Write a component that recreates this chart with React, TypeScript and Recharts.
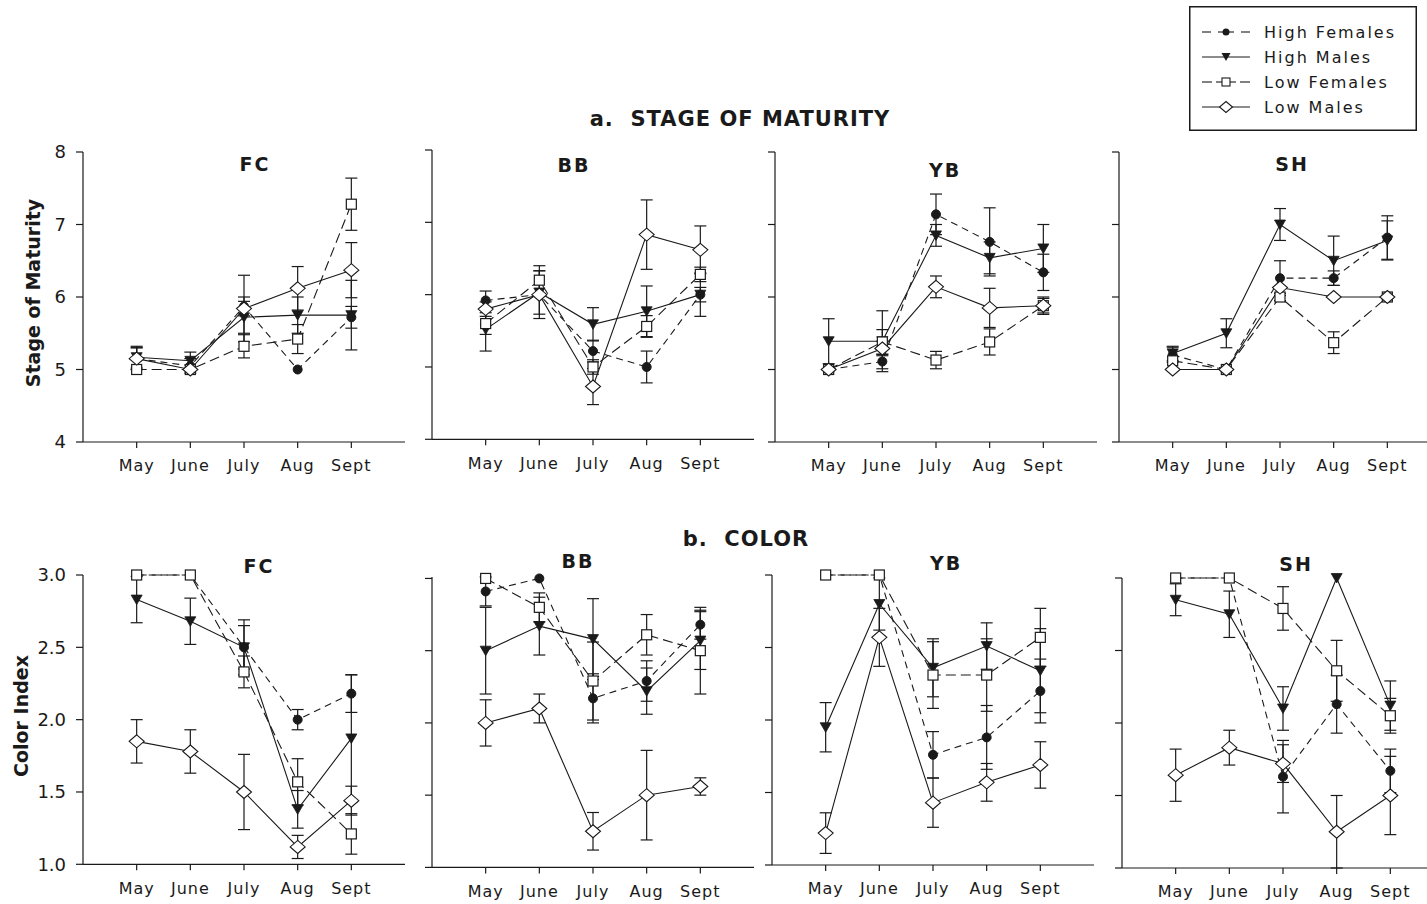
import React from 'react';
import { LineChart, Line, XAxis, YAxis, ErrorBar } from 'recharts';

// ---------- data ----------
const months = ['May', 'June', 'July', 'Aug', 'Sept'];
const seriesNames = ['High Females', 'High Males', 'Low Females', 'Low Males'];
const maturityTicks = [4, 5, 6, 7, 8];
const colorTicks = [1.0, 1.5, 2.0, 2.5, 3.0];

// each panel: rows = [High Females, High Males, Low Females, Low Males], columns = months
const matFC = [
  [5.15, 5.05, 5.87, 5.0, 5.72],
  [5.17, 5.12, 5.72, 5.75, 5.75],
  [5.0, 5.0, 5.32, 5.42, 7.28],
  [5.15, 5.0, 5.84, 6.12, 6.37],
];
const matFCErr = [
  [0.15, 0.1, 0.13, 0, 0.15],
  [0.15, 0.12, 0.22, 0.25, 0.48],
  [0, 0, 0.16, 0.2, 0.36],
  [0.15, 0, 0.46, 0.3, 0.38],
];
const matBB = [
  [5.92, 6.0, 5.22, 5.0, 6.0],
  [5.52, 6.03, 5.59, 5.77, 6.0],
  [5.6, 6.2, 5.0, 5.56, 6.28],
  [5.8, 6.0, 4.73, 6.83, 6.62],
];
const matBBErr = [
  [0.13, 0, 0.15, 0.22, 0.1],
  [0.3, 0.3, 0.23, 0.35, 0.3],
  [0.15, 0.2, 0.1, 0.15, 0.1],
  [0.1, 0.33, 0.25, 0.48, 0.33],
];
const matYB = [
  [5.0, 5.11, 7.14, 6.76, 6.34],
  [5.39, 5.39, 6.85, 6.54, 6.67],
  [5.0, 5.38, 5.13, 5.38, 5.88],
  [5.0, 5.29, 6.14, 5.85, 5.88],
];
const matYBErr = [
  [0, 0.1, 0.28, 0.47, 0.25],
  [0.31, 0.42, 0.15, 0.22, 0.33],
  [0, 0.17, 0.12, 0.18, 0.1],
  [0, 0.1, 0.15, 0.27, 0.12],
];
const matSH = [
  [5.2, 5.0, 6.26, 6.26, 6.82],
  [5.22, 5.5, 7.0, 6.5, 6.78],
  [5.12, 5.0, 6.0, 5.37, 6.0],
  [5.0, 5.0, 6.13, 6.0, 6.0],
];
const matSHErr = [
  [0.1, 0, 0.24, 0.1, 0.3],
  [0.1, 0.2, 0.22, 0.34, 0.27],
  [0, 0, 0.05, 0.15, 0],
  [0, 0, 0, 0, 0],
];
const colFC = [
  [3.0, 3.0, 2.5, 2.0, 2.18],
  [2.83, 2.68, 2.5, 1.38, 1.87],
  [3.0, 3.0, 2.33, 1.57, 1.21],
  [1.85, 1.78, 1.5, 1.12, 1.44],
];
const colFCErr = [
  [0, 0, 0.15, 0.07, 0.13],
  [0.16, 0.16, 0.19, 0.13, 0.44],
  [0, 0, 0.11, 0.16, 0.14],
  [0.15, 0.15, 0.26, 0.08, 0.1],
];
const colBB = [
  [2.91, 3.0, 2.17, 2.29, 2.68],
  [2.5, 2.67, 2.58, 2.22, 2.57],
  [3.0, 2.8, 2.29, 2.61, 2.5],
  [2.0, 2.1, 1.25, 1.5, 1.56],
];
const colBBErr = [
  [0.1, 0, 0.17, 0.14, 0.1],
  [0.3, 0.2, 0.28, 0.16, 0.2],
  [0, 0.1, 0.27, 0.14, 0.3],
  [0.16, 0.1, 0.13, 0.31, 0.06],
];
const colYB = [
  [3.0, 3.0, 1.76, 1.88, 2.2],
  [1.95, 2.8, 2.36, 2.51, 2.34],
  [3.0, 3.0, 2.31, 2.31, 2.57],
  [1.22, 2.57, 1.43, 1.57, 1.69],
];
const colYBErr = [
  [0, 0, 0.16, 0.22, 0.22],
  [0.17, 0.18, 0.2, 0.16, 0.29],
  [0, 0, 0.23, 0.25, 0.2],
  [0.14, 0.2, 0.17, 0.13, 0.16],
];
const colSH = [
  [3.0, 3.0, 1.63, 2.13, 1.67],
  [2.85, 2.75, 2.1, 3.0, 2.12],
  [3.0, 3.0, 2.79, 2.36, 2.05],
  [1.64, 1.83, 1.72, 1.25, 1.5],
];
const colSHErr = [
  [0, 0, 0.25, 0.2, 0.15],
  [0.11, 0.16, 0.15, 0, 0.17],
  [0, 0, 0.15, 0.21, 0.12],
  [0.18, 0.12, 0.13, 0.25, 0.27],
];

// ---------- helpers ----------
const INK = '#1a1a1a';
const KEYS = ['hf', 'hm', 'lf', 'lm'];

function buildRows(vals: number[][], errs: number[][]) {
  return months.map((_, i) => {
    const row: any = { m: i + 1 };
    KEYS.forEach((k, s) => {
      row[k] = vals[s][i];
      row[k + 'E'] = errs[s][i] || null;
    });
    return row;
  });
}

const CircleDot = (p: any) =>
  p.cx == null ? null : <circle key={`c${p.index}`} cx={p.cx} cy={p.cy} r={4.5} fill={INK} stroke={INK} strokeWidth={1} />;
const TriDot = (p: any) =>
  p.cx == null ? null : (
    <path key={`t${p.index}`} d={`M${p.cx - 5.5},${p.cy - 4.5} L${p.cx + 5.5},${p.cy - 4.5} L${p.cx},${p.cy + 5} Z`} fill={INK} stroke={INK} strokeWidth={0.8} />
  );
const SquareDot = (p: any) =>
  p.cx == null ? null : (
    <rect key={`s${p.index}`} x={p.cx - 5} y={p.cy - 5} width={10} height={10} fill="#fff" stroke={INK} strokeWidth={1.2} />
  );
const DiamondDot = (p: any) =>
  p.cx == null ? null : (
    <path key={`d${p.index}`} d={`M${p.cx},${p.cy - 6.5} L${p.cx + 7.5},${p.cy} L${p.cx},${p.cy + 6.5} L${p.cx - 7.5},${p.cy} Z`} fill="#fff" stroke={INK} strokeWidth={1.1} />
  );

const seriesStyle = [
  { key: 'hf', dash: '7 5', dot: CircleDot },
  { key: 'hm', dash: undefined, dot: TriDot },
  { key: 'lf', dash: '10 5', dot: SquareDot },
  { key: 'lm', dash: undefined, dot: DiamondDot },
];

const FONT = '"DejaVu Sans", Verdana, sans-serif';

type PanelProps = {
  x0: number;
  yTop: number;
  yBottom: number;
  rows: any[];
  domain: [number, number];
  ticks: number[];
  showLabels: boolean;
  fmt: (v: number) => string;
};

function Panel({ x0, yTop, yBottom, rows, domain, ticks, showLabels, fmt }: PanelProps) {
  const plotW = 322;
  const ml = 75;
  const mt = 10;
  const mr = 12;
  const xh = 48;
  const h = yBottom - yTop + mt + xh;
  return (
    <div style={{ position: 'absolute', left: x0 - ml, top: yTop - mt }}>
      <LineChart width={plotW + ml + mr} height={h} data={rows} margin={{ top: mt, right: mr, left: 0, bottom: 0 }}>
        <XAxis
          dataKey="m"
          type="number"
          domain={[0, 6]}
          ticks={[1, 2, 3, 4, 5]}
          interval={0}
          tickFormatter={(v: number) => months[v - 1]}
          height={xh}
          tickSize={6}
          tickMargin={12}
          stroke={INK}
          axisLine={{ stroke: INK, strokeWidth: 1.2 }}
          tickLine={{ stroke: INK, strokeWidth: 1.2 }}
          tick={{ fill: INK, fontSize: 16, fontFamily: FONT, letterSpacing: 1 }}
        />
        <YAxis
          type="number"
          domain={domain}
          ticks={ticks}
          interval={0}
          width={ml}
          tickSize={7}
          tickMargin={10}
          tickFormatter={showLabels ? fmt : () => ''}
          stroke={INK}
          axisLine={{ stroke: INK, strokeWidth: 1.2 }}
          tickLine={{ stroke: INK, strokeWidth: 1.2 }}
          tick={{ fill: INK, fontSize: 18, fontFamily: FONT }}
        />
        {seriesStyle.map((s, i) => (
          <Line
            key={s.key}
            dataKey={s.key}
            name={seriesNames[i]}
            type="linear"
            stroke={INK}
            strokeWidth={1.1}
            strokeDasharray={s.dash}
            dot={s.dot}
            activeDot={false}
            isAnimationActive={false}
          >
            <ErrorBar dataKey={s.key + 'E'} direction="y" width={6} stroke={INK} strokeWidth={1.2} isAnimationActive={false} />
          </Line>
        ))}
      </LineChart>
    </div>
  );
}

const fmtInt = (v: number) => String(v);
const fmtOne = (v: number) => v.toFixed(1);

const topPanels = [
  { name: 'FC', x0: 83.3, yTop: 151.7, yBottom: 441.7, vals: matFC, errs: matFCErr, tx: 255, ty: 164 },
  { name: 'BB', x0: 431.7, yTop: 150, yBottom: 439.3, vals: matBB, errs: matBBErr, tx: 574, ty: 165 },
  { name: 'YB', x0: 775, yTop: 151.8, yBottom: 441.8, vals: matYB, errs: matYBErr, tx: 945, ty: 170 },
  { name: 'SH', x0: 1119.3, yTop: 151.8, yBottom: 441.8, vals: matSH, errs: matSHErr, tx: 1292, ty: 164 },
];
const bottomPanels = [
  { name: 'FC', x0: 83.3, yTop: 575, yBottom: 864.3, vals: colFC, errs: colFCErr, tx: 259, ty: 566 },
  { name: 'BB', x0: 431.7, yTop: 577.3, yBottom: 867.7, vals: colBB, errs: colBBErr, tx: 578, ty: 561 },
  { name: 'YB', x0: 772.3, yTop: 575, yBottom: 865, vals: colYB, errs: colYBErr, tx: 946, ty: 563 },
  { name: 'SH', x0: 1121.7, yTop: 577.7, yBottom: 867.7, vals: colSH, errs: colSHErr, tx: 1296, ty: 564 },
];

const centered = (x: number, y: number, extra: React.CSSProperties = {}): React.CSSProperties => ({
  position: 'absolute',
  left: x,
  top: y,
  transform: 'translate(-50%, -50%)',
  whiteSpace: 'pre',
  lineHeight: 1,
  color: INK,
  fontFamily: FONT,
  ...extra,
});

function LegendBox() {
  const rowsY = [26, 51, 76, 101];
  const cx = 37;
  return (
    <div style={{ position: 'absolute', left: 1189, top: 6, width: 228, height: 125 }}>
      <svg width={228} height={125} style={{ display: 'block' }}>
        <rect x={0.75} y={0.75} width={226.5} height={123.5} fill="#fff" stroke={INK} strokeWidth={1.5} />
        {/* High Females */}
        <line x1={13} y1={rowsY[0]} x2={22} y2={rowsY[0]} stroke={INK} strokeWidth={1.1} />
        <line x1={29} y1={rowsY[0]} x2={45} y2={rowsY[0]} stroke={INK} strokeWidth={1.1} />
        <line x1={52} y1={rowsY[0]} x2={61} y2={rowsY[0]} stroke={INK} strokeWidth={1.1} />
        <circle cx={cx} cy={rowsY[0]} r={3.5} fill={INK} />
        {/* High Males */}
        <line x1={13} y1={rowsY[1]} x2={61} y2={rowsY[1]} stroke={INK} strokeWidth={1.1} />
        <path d={`M${cx - 4.5},${rowsY[1] - 4} L${cx + 4.5},${rowsY[1] - 4} L${cx},${rowsY[1] + 4} Z`} fill={INK} />
        {/* Low Females */}
        <line x1={13} y1={rowsY[2]} x2={23} y2={rowsY[2]} stroke={INK} strokeWidth={1.1} />
        <line x1={51} y1={rowsY[2]} x2={61} y2={rowsY[2]} stroke={INK} strokeWidth={1.1} />
        <line x1={27} y1={rowsY[2]} x2={47} y2={rowsY[2]} stroke={INK} strokeWidth={1.1} />
        <rect x={cx - 4} y={rowsY[2] - 4} width={8} height={8} fill="#fff" stroke={INK} strokeWidth={1.1} />
        {/* Low Males */}
        <line x1={13} y1={rowsY[3]} x2={61} y2={rowsY[3]} stroke={INK} strokeWidth={1.1} />
        <path d={`M${cx},${rowsY[3] - 5.5} L${cx + 6.5},${rowsY[3]} L${cx},${rowsY[3] + 5.5} L${cx - 6.5},${rowsY[3]} Z`} fill="#fff" stroke={INK} strokeWidth={1.1} />
        {seriesNames.map((n, i) => (
          <text key={n} x={75} y={rowsY[i]} dy="0.36em" fontFamily={FONT} fontSize={16} letterSpacing={2} fill={INK}>
            {n}
          </text>
        ))}
      </svg>
    </div>
  );
}

export default function App() {
  return (
    <div style={{ position: 'absolute', left: 0, top: 0, width: 1427, height: 904, background: '#fff', overflow: 'hidden' }}>
      {topPanels.map((p, i) => (
        <Panel
          key={'t' + p.name}
          x0={p.x0}
          yTop={p.yTop}
          yBottom={p.yBottom}
          rows={buildRows(p.vals, p.errs)}
          domain={[4, 8]}
          ticks={maturityTicks}
          showLabels={i === 0}
          fmt={fmtInt}
        />
      ))}
      {bottomPanels.map((p, i) => (
        <Panel
          key={'b' + p.name}
          x0={p.x0}
          yTop={p.yTop}
          yBottom={p.yBottom}
          rows={buildRows(p.vals, p.errs)}
          domain={[1, 3]}
          ticks={colorTicks}
          showLabels={i === 0}
          fmt={fmtOne}
        />
      ))}
      {topPanels.map((p) => (
        <div key={'tt' + p.name} style={centered(p.tx, p.ty, { fontWeight: 'bold', fontSize: 19, letterSpacing: 2 })}>
          {p.name}
        </div>
      ))}
      {bottomPanels.map((p) => (
        <div key={'bt' + p.name} style={centered(p.tx, p.ty, { fontWeight: 'bold', fontSize: 19, letterSpacing: 2 })}>
          {p.name}
        </div>
      ))}
      <div style={centered(740, 119, { fontWeight: 'bold', fontSize: 21, letterSpacing: 1 })}>{'a.  STAGE OF MATURITY'}</div>
      <div style={centered(746, 539, { fontWeight: 'bold', fontSize: 21, letterSpacing: 1 })}>{'b.  COLOR'}</div>
      <div style={centered(33, 293, { fontWeight: 'bold', fontSize: 19, transform: 'translate(-50%, -50%) rotate(-90deg)' })}>
        Stage of Maturity
      </div>
      <div style={centered(21, 716, { fontWeight: 'bold', fontSize: 19, transform: 'translate(-50%, -50%) rotate(-90deg)' })}>
        Color Index
      </div>
      <LegendBox />
    </div>
  );
}
